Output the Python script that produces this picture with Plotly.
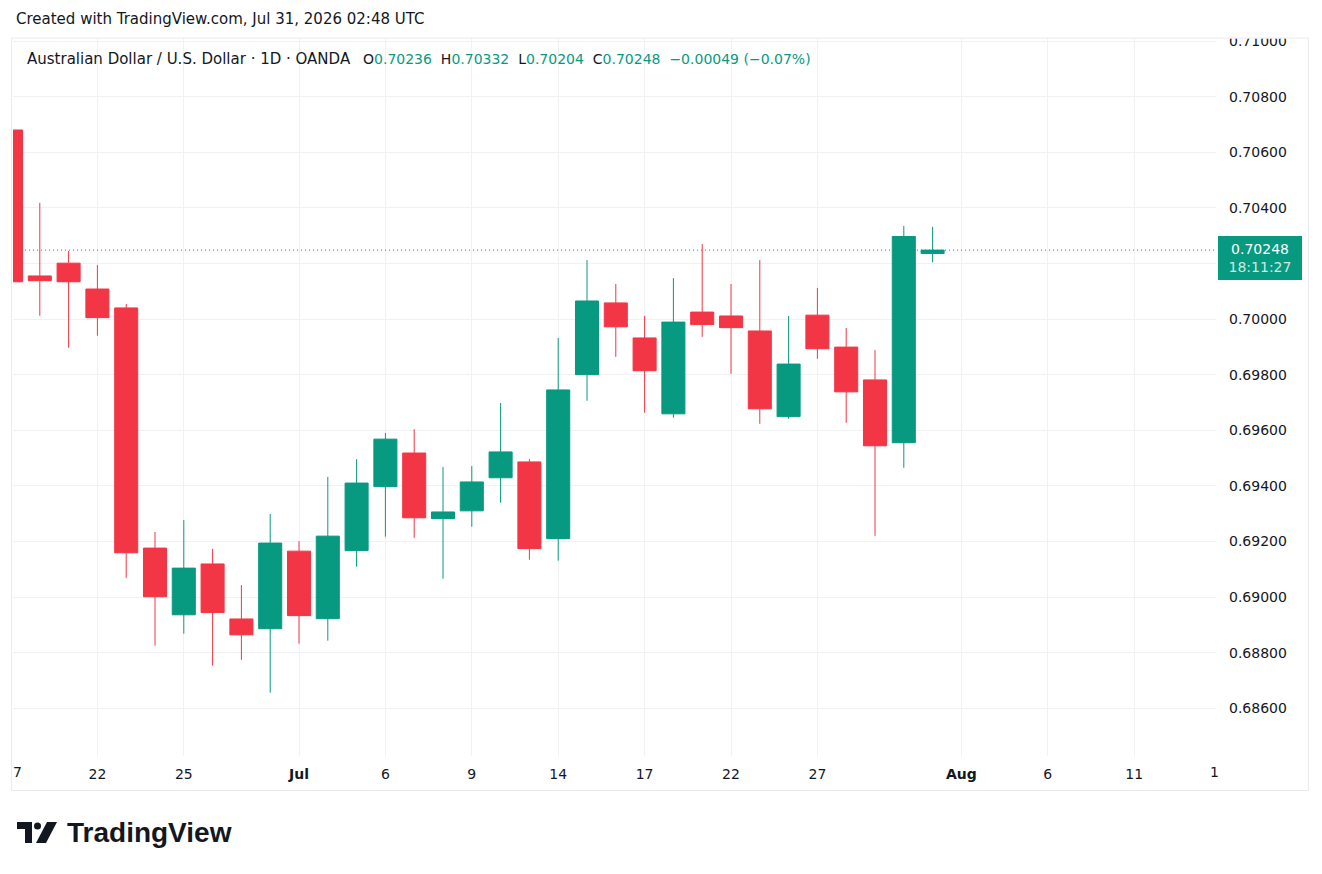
import numpy as np
import plotly.graph_objects as go

# ---------------- data ----------------
dates = ["2026-06-17", "2026-06-18", "2026-06-19", "2026-06-22", "2026-06-23", "2026-06-24",
         "2026-06-25", "2026-06-26", "2026-06-29", "2026-06-30", "2026-07-01", "2026-07-02",
         "2026-07-03", "2026-07-06", "2026-07-07", "2026-07-08", "2026-07-09", "2026-07-10",
         "2026-07-13", "2026-07-14", "2026-07-15", "2026-07-16", "2026-07-17", "2026-07-20",
         "2026-07-21", "2026-07-22", "2026-07-23", "2026-07-24", "2026-07-27", "2026-07-28",
         "2026-07-29", "2026-07-30", "2026-07-31"]
opens = [0.70680, 0.70155, 0.70201, 0.70108, 0.70040, 0.69176, 0.68936, 0.69119, 0.68921, 0.68886,
         0.69165, 0.68922, 0.69167, 0.69397, 0.69518, 0.69282, 0.69310, 0.69429, 0.69486, 0.69210,
         0.69800, 0.70058, 0.69932, 0.69659, 0.70025, 0.70011, 0.69957, 0.69649, 0.70014, 0.69899,
         0.69781, 0.69555, 0.70236]
highs = [0.70684, 0.70418, 0.70245, 0.70194, 0.70054, 0.69234, 0.69277, 0.69173, 0.69043, 0.69299,
         0.69201, 0.69432, 0.69496, 0.69590, 0.69604, 0.69468, 0.69471, 0.69698, 0.69496, 0.69932,
         0.70212, 0.70126, 0.70011, 0.70147, 0.70270, 0.70126, 0.70212, 0.70011, 0.70112, 0.69968,
         0.69888, 0.70335, 0.70332]
lows = [0.70130, 0.70012, 0.69897, 0.69940, 0.69069, 0.68825, 0.68868, 0.68753, 0.68774, 0.68656,
        0.68832, 0.68843, 0.69109, 0.69217, 0.69213, 0.69066, 0.69253, 0.69339, 0.69134, 0.69131,
        0.69706, 0.69864, 0.69663, 0.69645, 0.69936, 0.69803, 0.69623, 0.69641, 0.69857, 0.69627,
        0.69220, 0.69465, 0.70204]
closes = [0.70134, 0.70138, 0.70134, 0.70005, 0.69159, 0.69001, 0.69104, 0.68944, 0.68864, 0.69194,
          0.68933, 0.69219, 0.69410, 0.69568, 0.69285, 0.69306, 0.69414, 0.69522, 0.69174, 0.69745,
          0.70065, 0.69972, 0.69814, 0.69989, 0.69980, 0.69969, 0.69677, 0.69838, 0.69893, 0.69738,
          0.69544, 0.70297, 0.70248]

tick_dates = ["2026-06-17", "2026-06-22", "2026-06-25", "2026-07-01", "2026-07-06", "2026-07-09",
              "2026-07-14", "2026-07-17", "2026-07-22", "2026-07-27", "2026-08-03", "2026-08-06",
              "2026-08-11", "2026-08-14"]
tick_labels = ["17", "22", "25", "<b>Jul</b>", "6", "9", "14", "17", "22", "27", "<b>Aug</b>", "6", "11", "14"]
price_ticks = [0.686, 0.688, 0.690, 0.692, 0.694, 0.696, 0.698, 0.700, 0.702, 0.704, 0.706, 0.708, 0.710]

symbol_title = "Australian Dollar / U.S. Dollar · 1D · OANDA"
header_text = "Created with TradingView.com, Jul 31, 2026 02:48 UTC"
countdown = "18:11:27"

# ---------------- styling ----------------
GREEN = "#089981"
RED = "#F23645"
TXT = "#131722"
GRID = "#f0f1f3"
FONT = "DejaVu Sans"

W, H = 1322, 874
ML, MR, MT, MB = 13, 106, 38, 118
PW, PH = W - ML - MR, H - MT - MB

x_range = ["2026-06-17 13:40", "2026-08-14 08:10"]
y_range = [0.684281, 0.71011]


def tday(s):
    parts = s.split(" ")
    d = parts[0]
    t = parts[1] if len(parts) > 1 else "00:00"
    h, m = map(int, t.split(":"))
    return float(np.busday_count("2026-06-17", d)) + (h + m / 60.0) / 24.0


u0, u1 = tday(x_range[0]), tday(x_range[1])


def xpaper_of_date(s):
    return (tday(s) - u0) / (u1 - u0)


def P(x, y):
    return (x - ML) / PW, (H - MB - y) / PH


xs = [d + " 12:00" for d in dates]

fig = go.Figure()
fig.add_trace(go.Candlestick(
    x=xs, open=opens, high=highs, low=lows, close=closes,
    increasing=dict(line=dict(color=GREEN, width=1), fillcolor=GREEN),
    decreasing=dict(line=dict(color=RED, width=1), fillcolor=RED),
    whiskerwidth=0, hoverinfo="skip", showlegend=False,
))

shapes = []
# current price dotted line
shapes.append(dict(type="line", xref="paper", x0=0, x1=1, yref="y", y0=closes[-1], y1=closes[-1],
                   line=dict(color=GREEN, width=1, dash="1px,3px"), layer="above"))
# white mask above price scale (clips the top label like the reference)
mx0, my0 = P(1217, 38.5)
mx1, my1 = P(1320, 20)
shapes.append(dict(type="rect", xref="paper", yref="paper", x0=mx0, x1=mx1, y0=my0, y1=my1,
                   line=dict(width=0), fillcolor="white", layer="above"))
# chart border
bx0, by0 = P(11.5, 790.5)
bx1, by1 = P(1308.5, 38)
shapes.append(dict(type="rect", xref="paper", yref="paper", x0=bx0, x1=bx1, y0=by0, y1=by1,
                   line=dict(color="#e9eaee", width=1), fillcolor="rgba(0,0,0,0)", layer="above"))


# TradingView logo icon
def path_from(points):
    pts = [P(x, y) for x, y in points]
    return "M " + " L ".join(f"{a:.5f},{b:.5f}" for a, b in pts) + " Z"


logo_color = "#131722"
shapes.append(dict(type="path", xref="paper", yref="paper",
                   path=path_from([(17, 822), (32, 822), (32, 843), (25, 843), (25, 829), (17, 829)]),
                   fillcolor=logo_color, line=dict(width=0), layer="above"))
cx0, cy0 = P(34, 822.5)
cx1, cy1 = P(41, 829.5)
shapes.append(dict(type="circle", xref="paper", yref="paper", x0=cx0, x1=cx1, y0=cy0, y1=cy1,
                   fillcolor=logo_color, line=dict(width=0), layer="above"))
shapes.append(dict(type="path", xref="paper", yref="paper",
                   path=path_from([(47, 822), (57, 822), (46, 843), (36, 843)]),
                   fillcolor=logo_color, line=dict(width=0), layer="above"))

annotations = []
# header
annotations.append(dict(text=header_text, xref="paper", yref="paper", x=P(14, 0)[0], y=1,
                        xanchor="left", yanchor="middle", yshift=19, showarrow=False,
                        font=dict(family=FONT, size=15, color=TXT)))
# legend line: symbol title + OHLC values
chg = closes[-1] - closes[-2]
pct = chg / closes[-2] * 100
col = GREEN if closes[-1] >= opens[-1] else RED


def fmt_signed(v, nd):
    s = f"{abs(v):.{nd}f}"
    return ("\u2212" if v < 0 else "+") + s


sp = "\u00a0\u00a0"
values_txt = (f"O<span style='color:{col}'>{opens[-1]:.5f}</span>{sp}"
              f"H<span style='color:{col}'>{highs[-1]:.5f}</span>{sp}"
              f"L<span style='color:{col}'>{lows[-1]:.5f}</span>{sp}"
              f"C<span style='color:{col}'>{closes[-1]:.5f}</span>{sp}"
              f"<span style='color:{col}'>{fmt_signed(chg, 5)} ({fmt_signed(pct, 2)}%)</span>")
annotations.append(dict(text=symbol_title, xref="paper", yref="paper", x=P(25, 0)[0], y=1,
                        xanchor="left", yanchor="middle", yshift=-21, showarrow=False,
                        font=dict(family=FONT, size=15, color=TXT)))
annotations.append(dict(text=values_txt, xref="paper", yref="paper", x=P(361, 0)[0], y=1,
                        xanchor="left", yanchor="middle", yshift=-21, showarrow=False,
                        font=dict(family=FONT, size=14, color=TXT)))
# last price label on the price scale
annotations.append(dict(text=f"{closes[-1]:.5f}<br><span style='color:rgba(255,255,255,0.8)'>{countdown}</span>",
                        xref="paper", yref="y", x=1, y=closes[-1], xanchor="left", yanchor="top",
                        xshift=2, yshift=14, showarrow=False, bgcolor=GREEN, width=84, height=44,
                        borderpad=0, borderwidth=0, align="center",
                        font=dict(family=FONT, size=14, color="white")))
# clipped time labels at both edges
annotations.append(dict(text="7", xref="paper", yref="paper", x=0, y=0, xanchor="left",
                        yanchor="middle", xshift=-2, yshift=-16, showarrow=False,
                        font=dict(family=FONT, size=14, color=TXT)))
annotations.append(dict(text="1", xref="paper", yref="paper", x=xpaper_of_date(tick_dates[-1] + " 12:00"),
                        y=0, xanchor="left", yanchor="middle", xshift=-13, yshift=-16, showarrow=False,
                        font=dict(family=FONT, size=14, color=TXT)))
# TradingView wordmark
annotations.append(dict(text="<b>TradingView</b>", xref="paper", yref="paper", x=P(65, 0)[0],
                        y=P(0, 832)[1], xanchor="left", yanchor="middle", showarrow=False,
                        font=dict(family="Liberation Sans", size=28, color=logo_color)))

# price labels hidden behind the last-price tag are left blank (as in the reference)
lbl_lo = closes[-1] - 30 / PH * (y_range[1] - y_range[0])
lbl_hi = closes[-1] + 14 / PH * (y_range[1] - y_range[0])
price_text = ["" if lbl_lo - 0.0002 < v < lbl_hi + 0.0002 else f"{v:.5f}" for v in price_ticks]

fig.update_layout(
    width=W, height=H,
    margin=dict(l=ML, r=MR, t=MT, b=MB, pad=0),
    paper_bgcolor="white", plot_bgcolor="white",
    boxgap=0.2, boxgroupgap=0,
    showlegend=False,
    shapes=shapes, annotations=annotations,
    xaxis=dict(type="date", range=x_range, rangebreaks=[dict(bounds=["sat", "mon"])],
               rangeslider=dict(visible=False), tickmode="array",
               tickvals=[d + " 12:00" for d in tick_dates], ticktext=tick_labels,
               showgrid=True, gridcolor=GRID, gridwidth=1, ticks="", showline=False, zeroline=False,
               tickfont=dict(family=FONT, size=14, color=TXT), ticklabelstandoff=8, fixedrange=True),
    yaxis=dict(side="right", range=y_range, tickmode="array", tickvals=price_ticks,
               ticktext=price_text, showgrid=True, gridcolor=GRID, gridwidth=1,
               ticks="", showline=False, zeroline=False, ticklabelstandoff=12,
               tickfont=dict(family=FONT, size=14, color=TXT), fixedrange=True),
)

fig.write_html("out.html", config={"displayModeBar": False})
